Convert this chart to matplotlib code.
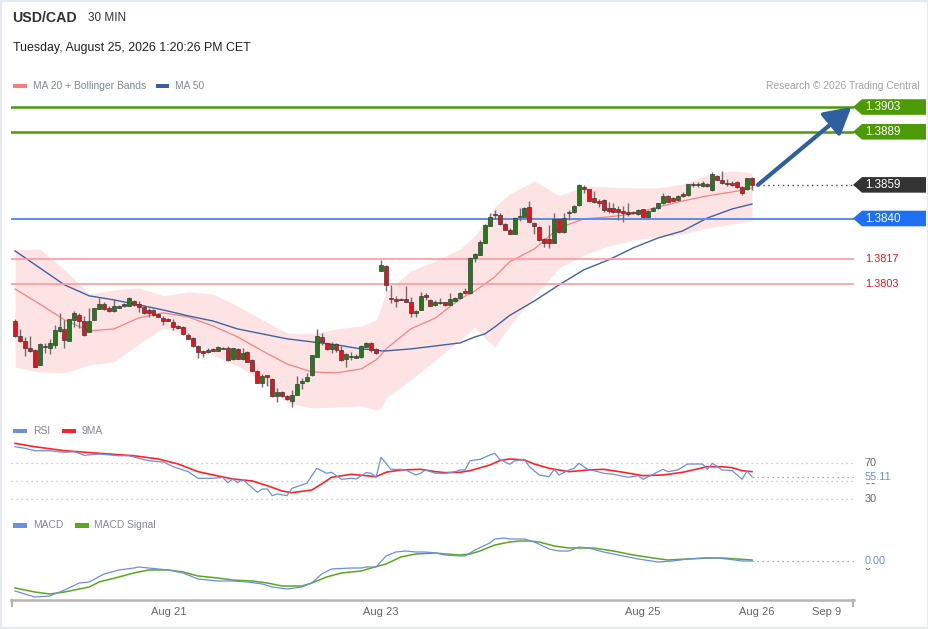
import matplotlib
matplotlib.use("Agg")
import matplotlib.pyplot as plt
import numpy as np
from matplotlib.lines import Line2D
from matplotlib.patches import Polygon, Rectangle
from matplotlib.transforms import blended_transform_factory

plt.rcParams["font.family"] = ["Liberation Sans", "DejaVu Sans"]

W, H = 929, 629

# 30-minute candles, USD/CAD
OPENS = [
    1.37823, 1.37737, 1.37710, 1.37667, 1.37657, 1.37573, 1.37678, 1.37667, 1.37686, 1.37767,
    1.37776, 1.37710, 1.37827, 1.37855, 1.37823, 1.37761, 1.37827, 1.37891, 1.37917, 1.37896,
    1.37878, 1.37896, 1.37906, 1.37906, 1.37934, 1.37917, 1.37902, 1.37883, 1.37883, 1.37861,
    1.37838, 1.37831, 1.37816, 1.37791, 1.37785, 1.37741, 1.37724, 1.37678, 1.37654, 1.37648,
    1.37665, 1.37654, 1.37669, 1.37667, 1.37605, 1.37663, 1.37607, 1.37644, 1.37601, 1.37541,
    1.37469, 1.37514, 1.37494, 1.37398, 1.37422, 1.37398, 1.37371, 1.37404, 1.37469, 1.37484,
    1.37514, 1.37619, 1.37733, 1.37695, 1.37663, 1.37690, 1.37657, 1.37607, 1.37616, 1.37613,
    1.37616, 1.37676, 1.37695, 1.37663, 1.38106, 1.38133, 1.37953, 1.37946, 1.37947, 1.37946,
    1.37927, 1.37865, 1.37883, 1.37968, 1.37940, 1.37912, 1.37921, 1.37927, 1.37912, 1.37936,
    1.37950, 1.37991, 1.37978, 1.38175, 1.38194, 1.38264, 1.38358, 1.38417, 1.38420, 1.38368,
    1.38337, 1.38314, 1.38407, 1.38411, 1.38463, 1.38377, 1.38350, 1.38285, 1.38283, 1.38264,
    1.38396, 1.38321, 1.38430, 1.38435, 1.38476, 1.38580, 1.38565, 1.38515, 1.38501, 1.38505,
    1.38458, 1.38458, 1.38452, 1.38445, 1.38439, 1.38439, 1.38426, 1.38452, 1.38407, 1.38445,
    1.38458, 1.38487, 1.38529, 1.38515, 1.38505, 1.38539, 1.38533, 1.38595, 1.38591, 1.38584,
    1.38595, 1.38562, 1.38642, 1.38618, 1.38599, 1.38602, 1.38608, 1.38580, 1.38565, 1.38628,
]
HIGHS = [
    1.37833, 1.37776, 1.37733, 1.37737, 1.37663, 1.37695, 1.37697, 1.37718, 1.37799, 1.37865,
    1.37827, 1.37833, 1.37878, 1.37865, 1.37850, 1.37896, 1.37896, 1.37950, 1.37929, 1.37906,
    1.37944, 1.37912, 1.37923, 1.37955, 1.37940, 1.37934, 1.37909, 1.37893, 1.37889, 1.37867,
    1.37850, 1.37835, 1.37831, 1.37796, 1.37790, 1.37752, 1.37729, 1.37686, 1.37657, 1.37667,
    1.37669, 1.37677, 1.37672, 1.37680, 1.37669, 1.37667, 1.37669, 1.37649, 1.37604, 1.37544,
    1.37522, 1.37518, 1.37498, 1.37441, 1.37426, 1.37402, 1.37431, 1.37512, 1.37498, 1.37529,
    1.37629, 1.37774, 1.37752, 1.37699, 1.37704, 1.37695, 1.37680, 1.37639, 1.37648, 1.37633,
    1.37684, 1.37702, 1.37704, 1.37667, 1.38166, 1.38136, 1.38025, 1.37963, 1.37951, 1.38016,
    1.37959, 1.37883, 1.37987, 1.37981, 1.37944, 1.37942, 1.37950, 1.37930, 1.37981, 1.37959,
    1.37985, 1.38006, 1.38185, 1.38204, 1.38279, 1.38370, 1.38430, 1.38449, 1.38432, 1.38374,
    1.38346, 1.38409, 1.38458, 1.38465, 1.38501, 1.38381, 1.38355, 1.38289, 1.38364, 1.38433,
    1.38399, 1.38430, 1.38449, 1.38476, 1.38593, 1.38590, 1.38569, 1.38558, 1.38509, 1.38509,
    1.38496, 1.38490, 1.38471, 1.38471, 1.38490, 1.38443, 1.38452, 1.38456, 1.38449, 1.38465,
    1.38490, 1.38543, 1.38533, 1.38524, 1.38533, 1.38547, 1.38595, 1.38607, 1.38605, 1.38614,
    1.38602, 1.38662, 1.38646, 1.38669, 1.38622, 1.38614, 1.38612, 1.38584, 1.38631, 1.38637,
]
LOWS = [
    1.37731, 1.37704, 1.37624, 1.37646, 1.37561, 1.37570, 1.37641, 1.37635, 1.37667, 1.37761,
    1.37669, 1.37708, 1.37789, 1.37780, 1.37737, 1.37759, 1.37824, 1.37889, 1.37883, 1.37872,
    1.37874, 1.37892, 1.37900, 1.37903, 1.37906, 1.37874, 1.37861, 1.37842, 1.37850, 1.37841,
    1.37799, 1.37819, 1.37770, 1.37776, 1.37744, 1.37720, 1.37676, 1.37611, 1.37616, 1.37639,
    1.37650, 1.37650, 1.37660, 1.37597, 1.37601, 1.37604, 1.37601, 1.37587, 1.37537, 1.37469,
    1.37450, 1.37454, 1.37394, 1.37361, 1.37394, 1.37377, 1.37337, 1.37402, 1.37435, 1.37478,
    1.37512, 1.37617, 1.37686, 1.37659, 1.37639, 1.37648, 1.37597, 1.37560, 1.37601, 1.37610,
    1.37614, 1.37673, 1.37648, 1.37632, 1.38104, 1.37993, 1.37925, 1.37902, 1.37937, 1.37927,
    1.37842, 1.37846, 1.37881, 1.37940, 1.37904, 1.37908, 1.37917, 1.37906, 1.37909, 1.37933,
    1.37946, 1.37974, 1.37976, 1.38153, 1.38191, 1.38262, 1.38356, 1.38396, 1.38365, 1.38333,
    1.38311, 1.38311, 1.38388, 1.38409, 1.38381, 1.38314, 1.38275, 1.38238, 1.38232, 1.38262,
    1.38318, 1.38319, 1.38392, 1.38432, 1.38473, 1.38543, 1.38498, 1.38487, 1.38467, 1.38439,
    1.38433, 1.38433, 1.38392, 1.38382, 1.38415, 1.38426, 1.38422, 1.38407, 1.38405, 1.38441,
    1.38456, 1.38483, 1.38492, 1.38498, 1.38501, 1.38524, 1.38530, 1.38580, 1.38580, 1.38580,
    1.38580, 1.38558, 1.38615, 1.38595, 1.38584, 1.38586, 1.38573, 1.38533, 1.38562, 1.38562,
]
CLOSES = [
    1.37737, 1.37710, 1.37667, 1.37650, 1.37563, 1.37689, 1.37674, 1.37699, 1.37770, 1.37789,
    1.37714, 1.37831, 1.37865, 1.37823, 1.37741, 1.37823, 1.37895, 1.37917, 1.37889, 1.37878,
    1.37906, 1.37906, 1.37916, 1.37950, 1.37910, 1.37899, 1.37865, 1.37865, 1.37854, 1.37846,
    1.37823, 1.37823, 1.37789, 1.37780, 1.37748, 1.37721, 1.37680, 1.37648, 1.37642, 1.37657,
    1.37654, 1.37673, 1.37663, 1.37601, 1.37667, 1.37607, 1.37639, 1.37590, 1.37541, 1.37473,
    1.37512, 1.37503, 1.37398, 1.37422, 1.37398, 1.37381, 1.37404, 1.37466, 1.37484, 1.37507,
    1.37628, 1.37737, 1.37702, 1.37663, 1.37690, 1.37657, 1.37601, 1.37632, 1.37625, 1.37624,
    1.37680, 1.37695, 1.37657, 1.37639, 1.38136, 1.38025, 1.37944, 1.37936, 1.37940, 1.37930,
    1.37865, 1.37878, 1.37963, 1.37955, 1.37908, 1.37927, 1.37930, 1.37912, 1.37944, 1.37953,
    1.37981, 1.37978, 1.38175, 1.38200, 1.38269, 1.38364, 1.38411, 1.38426, 1.38368, 1.38337,
    1.38314, 1.38402, 1.38416, 1.38458, 1.38382, 1.38358, 1.38279, 1.38264, 1.38264, 1.38396,
    1.38321, 1.38405, 1.38439, 1.38472, 1.38590, 1.38565, 1.38501, 1.38492, 1.38490, 1.38449,
    1.38445, 1.38435, 1.38439, 1.38433, 1.38426, 1.38430, 1.38449, 1.38411, 1.38445, 1.38461,
    1.38487, 1.38529, 1.38496, 1.38501, 1.38529, 1.38528, 1.38594, 1.38590, 1.38595, 1.38602,
    1.38584, 1.38651, 1.38618, 1.38599, 1.38595, 1.38590, 1.38577, 1.38543, 1.38628, 1.38590,
]

# MA 20 + Bollinger Bands and MA 50, read at these candle numbers
BAND_IDX = [0, 5, 10, 15, 20, 25, 30, 35, 40, 45, 50, 55, 60, 65, 70, 73, 74, 75,
            80, 85, 90, 93, 95, 97, 100, 105, 110, 115, 120, 125, 130, 135, 140, 145, 149]
BB_UPPER = [1.38223, 1.38228, 1.38110, 1.37974, 1.37996, 1.38008, 1.37963, 1.37985, 1.37974,
            1.37906, 1.37827, 1.37754, 1.37748, 1.37776, 1.37793, 1.37827, 1.37895, 1.37985,
            1.38104, 1.38160, 1.38228, 1.38302, 1.38375, 1.38465, 1.38539, 1.38612, 1.38528,
            1.38584, 1.38578, 1.38573, 1.38573, 1.38595, 1.38646, 1.38669, 1.38658]
BB_LOWER = [1.37561, 1.37533, 1.37528, 1.37573, 1.37590, 1.37691, 1.37782, 1.37737, 1.37629,
            1.37567, 1.37482, 1.37358, 1.37330, 1.37335, 1.37341, 1.37318, 1.37330, 1.37386,
            1.37488, 1.37601, 1.37714, 1.37787, 1.37725, 1.37674, 1.37793, 1.37963, 1.38121,
            1.38194, 1.38245, 1.38279, 1.38296, 1.38313, 1.38347, 1.38369, 1.38386]
MA20 = [1.38002, 1.37917, 1.37827, 1.37765, 1.37776, 1.37838, 1.37867, 1.37844, 1.37793,
        1.37731, 1.37652, 1.37578, 1.37533, 1.37528, 1.37550, 1.37601, 1.37629, 1.37663,
        1.37776, 1.37838, 1.37946, 1.37991, 1.38030, 1.38070, 1.38155, 1.38228, 1.38347,
        1.38398, 1.38409, 1.38426, 1.38465, 1.38499, 1.38528, 1.38550, 1.38573]
MA50 = [1.38217, 1.38121, 1.38025, 1.37963, 1.37940, 1.37912, 1.37883, 1.37850, 1.37821,
        1.37776, 1.37748, 1.37720, 1.37703, 1.37686, 1.37663, 1.37657, 1.37652, 1.37652,
        1.37663, 1.37680, 1.37697, 1.37731, 1.37748, 1.37787, 1.37852, 1.37934, 1.38025,
        1.38110, 1.38166, 1.38234, 1.38290, 1.38330, 1.38403, 1.38454, 1.38482]

RSI_IDX = [0, 2, 4, 7, 10, 12, 14, 17, 21, 23, 25, 27, 30, 32, 35, 37, 40, 42, 43, 44,
           45, 46, 49, 50, 51, 52, 53, 55, 56, 59, 61, 63, 64, 66, 68, 69, 71, 72, 73, 74,
           76, 78, 79, 81, 82, 83, 85, 87, 89, 90, 91, 92, 94, 96, 97, 98, 100, 101, 103, 104,
           106, 108, 109, 110, 112, 113, 114, 116, 117, 119, 121, 124, 126, 127, 129, 131, 132,
           134, 136, 139, 140, 141, 143, 145, 147, 148, 149]
RSI_VALS = [88.4, 86.7, 84.0, 84.0, 82.2, 82.9, 78.9, 80.3, 78.4, 78.4, 75.6, 72.9, 71.4, 66.2,
            60.7, 53.3, 53.3, 54.4, 48.4, 52.6, 48.4, 52.2, 37.8, 41.4, 41.4, 34.0, 35.9, 34.0,
            42.2, 47.8, 64.4, 58.9, 60.0, 52.2, 53.3, 52.6, 59.6, 58.9, 54.4, 76.7, 63.3, 63.3,
            62.6, 57.0, 58.9, 62.6, 58.9, 58.9, 60.7, 62.6, 62.6, 72.9, 74.4, 79.2, 81.1, 74.4,
            68.9, 72.6, 74.4, 66.2, 57.0, 55.1, 63.3, 57.0, 62.6, 64.4, 70.0, 62.6, 61.8, 58.9,
            57.8, 54.4, 56.2, 52.2, 57.8, 63.3, 60.7, 62.6, 69.2, 69.2, 63.3, 70.0, 62.6, 61.8,
            52.2, 61.4, 55.11]
RSI_MA_IDX = [0, 4, 10, 17, 24, 29, 33, 37, 41, 44, 48, 51, 54, 56, 60, 62, 64, 68, 71, 73,
              75, 78, 82, 85, 87, 90, 92, 96, 98, 100, 103, 105, 108, 112, 116, 119, 123, 127,
              131, 135, 138, 140, 143, 145, 147, 149]
RSI_MA_VALS = [92.2, 88.4, 84.0, 81.1, 78.4, 74.8, 69.2, 60.7, 55.9, 52.6, 50.3, 45.1, 39.2,
               37.3, 40.3, 47.0, 54.4, 57.8, 56.2, 55.1, 60.0, 62.6, 63.3, 60.7, 59.6, 60.0,
               61.8, 68.1, 72.9, 74.8, 73.7, 69.2, 64.4, 60.7, 62.6, 63.3, 60.0, 56.2, 57.0,
               60.0, 63.7, 66.2, 66.2, 65.1, 61.8, 60.7]

MACD_IDX = [0, 4, 7, 10, 13, 15, 18, 21, 24, 25, 27, 31, 34, 37, 41, 44, 47, 50, 52, 55,
            58, 60, 62, 64, 68, 70, 71, 73, 75, 77, 79, 81, 83, 85, 87, 90, 91, 93, 96, 97,
            99, 100, 103, 105, 108, 110, 112, 114, 116, 119, 123, 126, 130, 133, 136, 140, 142,
            144, 147, 149]
MACD_VALS = [-0.00024, -0.00030, -0.00029, -0.00023, -0.00016, -0.00015, -0.00007, -0.00003,
             -0.00001, 0.0, -0.00001, -0.00003, -0.00006, -0.00012, -0.00014, -0.00014,
             -0.00015, -0.00017, -0.00020, -0.00022, -0.00020, -0.00016, -0.00007, -0.00002,
             -0.00001, -0.00001, 0.0, 0.0, 0.00011, 0.00015, 0.00016, 0.00015, 0.00015,
             0.00014, 0.00012, 0.00011, 0.00011, 0.00017, 0.00024, 0.00028, 0.00029, 0.00028,
             0.00028, 0.00025, 0.00018, 0.00016, 0.00016, 0.00020, 0.00019, 0.00015, 0.00011,
             0.00008, 0.00005, 0.00006, 0.00008, 0.00009, 0.00009, 0.00008, 0.00006, 0.00006]
SIG_IDX = [0, 4, 7, 10, 15, 17, 21, 24, 27, 31, 34, 37, 41, 44, 48, 51, 54, 58, 60, 63,
           66, 70, 72, 75, 78, 81, 85, 87, 90, 92, 94, 97, 100, 102, 104, 106, 109, 112, 114,
           117, 121, 125, 129, 132, 136, 140, 143, 146, 149]
SIG_VALS = [-0.00021, -0.00025, -0.00027, -0.00025, -0.00020, -0.00015, -0.00010, -0.00006,
            -0.00003, -0.00003, -0.00005, -0.00009, -0.00011, -0.00013, -0.00014, -0.00016,
            -0.00019, -0.00019, -0.00016, -0.00010, -0.00006, -0.00004, -0.00001, 0.00003,
            0.00010, 0.00013, 0.00014, 0.00013, 0.00012, 0.00013, 0.00016, 0.00022, 0.00025,
            0.00026, 0.00026, 0.00025, 0.00021, 0.00019, 0.00019, 0.00019, 0.00016, 0.00012,
            0.00009, 0.00007, 0.00008, 0.00009, 0.00009, 0.00008, 0.00007]

DATE_LABELS = ["Aug 21", "Aug 23", "Aug 25", "Aug 26", "Sep 9"]
DATE_POS = [31, 74, 127, 150, 164]

RESIST = [1.3903, 1.3889]
PIVOT = 1.3840
SUPPORT = [1.3817, 1.3803]
TARGET = 1.3903

GREEN = "#4c9a06"
BLUE_LEVEL = "#5a8de6"
BLUE_TAG = "#1e6ff2"
RED_LEVEL = "#ff9a9a"
RED_TEXT = "#e8141c"
IND_BLUE = "#6b8fe3"


def fx(px):
    return px / W


def fy(py):
    return 1 - py / H


def axes_rect(left, top, right, bottom):
    return [fx(left), fy(bottom), (right - left) / W, (bottom - top) / H]


fig = plt.figure(figsize=(W / 100, H / 100), dpi=100)
fig.patch.set_facecolor("white")

ax = fig.add_axes(axes_rect(11, 96.4, 854, 411.4))
ax_rsi = fig.add_axes(axes_rect(11, 440, 854, 515))
ax_macd = fig.add_axes(axes_rect(11, 530, 854, 600))
for a in (ax, ax_rsi, ax_macd):
    a.set_xlim(-0.81, 169.63)
    a.set_facecolor("none")
    for spine in a.spines.values():
        spine.set_visible(False)
    a.set_xticks([])
    a.set_yticks([])
ax.set_ylim(1.3731, 1.3909)
ax_rsi.set_ylim(12.5, 95.9)
ax_macd.set_ylim(-0.00033, 0.00037)

LINE_END = (853 - 11) / 843

# ---- price panel
ax.fill_between(BAND_IDX, BB_LOWER, BB_UPPER, color="#fde3e3", lw=0, zorder=1)
ax.plot(BAND_IDX, MA20, color="#f58383", lw=0.9, zorder=2)
ax.plot(BAND_IDX, MA50, color="#3e63a6", lw=1.0, zorder=2)

for lvl in RESIST:
    ax.axhline(lvl, xmin=0, xmax=LINE_END, color=GREEN, lw=1.8, zorder=2)
ax.axhline(PIVOT, xmin=0, xmax=LINE_END, color=BLUE_LEVEL, lw=1.4, zorder=2)
for lvl in SUPPORT:
    ax.axhline(lvl, xmin=0, xmax=LINE_END, color=RED_LEVEL, lw=1.2, zorder=2)

idx = np.arange(len(CLOSES))
o = np.array(OPENS)
c = np.array(CLOSES)
up = c >= o
ax.vlines(idx, LOWS, HIGHS, color="#6e6e6e", lw=1.0, zorder=3)
ax.bar(idx, np.maximum(np.abs(c - o), 0.00004), bottom=np.minimum(o, c), width=0.8,
       color=np.where(up, "#237a1d", "#e3141b"), edgecolor="#3a3a3a", lw=0.5, zorder=4)

last = CLOSES[-1]
ax.hlines(last, len(CLOSES) + 0.3, 169.4, colors="#444444", lw=1.0,
          linestyles=(0, (1, 2.5)), zorder=2)
ax.annotate("", xy=(169.1, TARGET), xytext=(150.2, last),
            arrowprops=dict(arrowstyle="-|>,head_length=0.8,head_width=0.45", color="#2e5f9e",
                            lw=3.0, mutation_scale=20, shrinkA=0, shrinkB=0), zorder=5)

# ---- RSI panel
for lvl in (70, 50, 30):
    ax_rsi.axhline(lvl, xmin=0, xmax=LINE_END, color="#b8bcc4", lw=0.9, ls=(0, (1, 3)))
ax_rsi.plot(RSI_MA_IDX, RSI_MA_VALS, color="#ff2424", lw=1.2, zorder=2)
ax_rsi.plot(RSI_IDX, RSI_VALS, color=IND_BLUE, lw=0.9, zorder=3)
ax_rsi.hlines(RSI_VALS[-1], RSI_IDX[-1], 169.4, colors=IND_BLUE, lw=0.9, linestyles=(0, (1, 3)))

# ---- MACD panel
ax_macd.plot(SIG_IDX, SIG_VALS, color="#5aa81e", lw=1.1, zorder=2)
ax_macd.plot(MACD_IDX, MACD_VALS, color=IND_BLUE, lw=0.9, zorder=3)
ax_macd.hlines(MACD_VALS[-1], MACD_IDX[-1], 169.4, colors=IND_BLUE, lw=0.9,
               linestyles=(0, (1, 3)))
ax_macd.spines["bottom"].set_visible(True)
ax_macd.spines["bottom"].set_color("#b5b5b5")
ax_macd.spines["bottom"].set_linewidth(1.8)
for px in (11.8, 853.2):
    fig.add_artist(Line2D([fx(px), fx(px)], [fy(600), fy(606)], color="#b5b5b5", lw=1.6))

date_tr = blended_transform_factory(ax_macd.transData, fig.transFigure)
for pos, lab in zip(DATE_POS, DATE_LABELS):
    fig.text(pos, fy(612), lab, transform=date_tr, ha="center", va="center",
             fontsize=8, color="#666666")


# ---- right-hand labels
def fig_y(axis, value):
    return fig.transFigure.inverted().transform(axis.transData.transform((0, value)))[1]


def tag(axis, value, text, face):
    yf = fig_y(axis, value)
    hh = 7.8 / H
    pts = [(fx(853), yf), (fx(862), yf + hh), (fx(926), yf + hh), (fx(926), yf - hh),
           (fx(862), yf - hh)]
    fig.add_artist(Polygon(pts, closed=True, transform=fig.transFigure, facecolor=face,
                           edgecolor="none"))
    fig.text(fx(865), yf, text, color="white", fontsize=8.4, va="center", ha="left")


def side_label(axis, value, text, color, boxed=False):
    kw = {}
    if boxed:
        kw["bbox"] = dict(facecolor="white", edgecolor="none", pad=1.2)
    fig.text(fx(865), fig_y(axis, value), text, color=color, fontsize=7.8,
             va="center", ha="left", **kw)


for lvl in RESIST:
    tag(ax, lvl, f"{lvl:.4f}", GREEN)
tag(ax, last, f"{last:.4f}", "#333333")
tag(ax, PIVOT, f"{PIVOT:.4f}", BLUE_TAG)
for lvl in SUPPORT:
    side_label(ax, lvl, f"{lvl:.4f}", RED_TEXT)

side_label(ax_rsi, 70, "70", "#666666")
side_label(ax_rsi, 30, "30", "#666666")
# axis labels partly hidden behind the current-value boxes, as in the source chart
side_label(ax_rsi, 50, "50", "#666666")
side_label(ax_rsi, RSI_VALS[-1], f"{RSI_VALS[-1]:.2f}", IND_BLUE, boxed=True)
side_label(ax_macd, 0, "0", "#666666")
side_label(ax_macd, MACD_VALS[-1], f"{MACD_VALS[-1]:.2f}", IND_BLUE, boxed=True)

# ---- header and legends
fig.text(fx(12), fy(18), "USD/CAD", fontsize=10.2, fontweight="bold", color="#333333",
         va="center")
fig.text(fx(88), fy(18), "30 MIN", fontsize=8.5, color="#333333", va="center")
fig.text(fx(13), fy(48), "Tuesday, August 25, 2026 1:20:26 PM CET", fontsize=8.9,
         color="#222222", va="center")
fig.text(fx(919.5), fy(86), "Research \u00a9 2026 Trading Central", fontsize=7.4,
         color="#a0a0a0", va="center", ha="right")


def legend_item(x0, y, color, text, width=13.5):
    fig.add_artist(Rectangle((fx(x0), fy(y + 2.2)), width / W, 4.4 / H,
                             transform=fig.transFigure, facecolor=color, edgecolor="none"))
    fig.text(fx(x0 + width + 6), fy(y), text, fontsize=7.4, color="#7f8894", va="center")


legend_item(13.3, 86, "#ff7b7b", "MA 20 + Bollinger Bands")
legend_item(155.5, 86, "#3a5f9f", "MA 50")
legend_item(13.3, 431, IND_BLUE, "RSI")
legend_item(62.5, 431, "#ff2424", "9MA")
legend_item(13.3, 525.5, IND_BLUE, "MACD")
legend_item(75, 525.5, "#5aa81e", "MACD Signal")

fig.add_artist(Rectangle((0, 0), 1, 1, transform=fig.transFigure, fill=False,
                         edgecolor="#e4eaef", lw=3))

fig.savefig("out.png", dpi=100, facecolor="white")
